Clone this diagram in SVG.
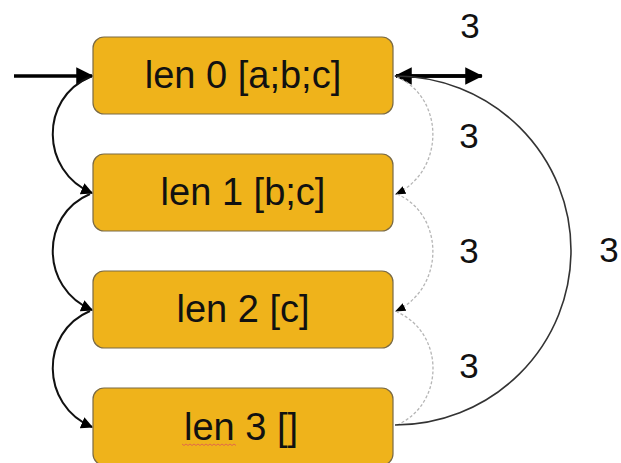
<svg xmlns="http://www.w3.org/2000/svg" width="621" height="463" viewBox="0 0 621 463">
<defs>
<style>
.box{fill:#EFB31B;stroke:#7a6a45;stroke-width:1.2}
.lbl{font-family:"Liberation Sans",Arial,sans-serif;font-size:38px;fill:#111;text-anchor:middle}
.num{font-family:"Liberation Sans",Arial,sans-serif;font-size:35px;fill:#111;text-anchor:middle}
.thick{fill:none;stroke:#000;stroke-width:3.5}
.arc{fill:none;stroke:#111;stroke-width:2}
.dash{fill:none;stroke:#b5b5b5;stroke-width:1.3;stroke-dasharray:3 2}
.big{fill:none;stroke:#333;stroke-width:1.6}
</style>
<marker id="ah" viewBox="0 0 10 10" refX="9" refY="5" markerWidth="5" markerHeight="5" orient="auto" markerUnits="strokeWidth">
<path d="M0,0 L10,5 L0,10 z" fill="#000"/>
</marker>
<marker id="ahs" viewBox="0 0 10 10" refX="9" refY="5" markerWidth="6" markerHeight="6" orient="auto" markerUnits="strokeWidth">
<path d="M0,0 L10,5 L0,10 z" fill="#000"/>
</marker>
<marker id="ahd" viewBox="0 0 10 10" refX="9" refY="5" markerWidth="8" markerHeight="8" orient="auto" markerUnits="strokeWidth">
<path d="M0,1 L10,5 L0,9 z" fill="#000"/>
</marker>
</defs>
<g id="connectors">
<path class="thick" d="M14,76 L92,76" marker-end="url(#ah)"/>
<path class="thick" d="M482,76 L396,76" marker-end="url(#ah)"/>
<path class="thick" d="M396,76 L481,76" marker-end="url(#ah)"/>
<path class="arc" d="M90,77 C40,98 40,171 92,193" marker-end="url(#ahs)"/>
<path class="arc" d="M90,194 C40,215 40,288 92,310" marker-end="url(#ahs)"/>
<path class="arc" d="M90,311 C40,332 40,405 92,427" marker-end="url(#ahs)"/>
<path class="dash" d="M397,77 C445,98 445,171 396,194" marker-end="url(#ahd)"/>
<path class="dash" d="M397,194 C445,215 445,288 396,311" marker-end="url(#ahd)"/>
<path class="dash" d="M397,425 C445,404 445,333 397,312"/>
<path class="big" d="M395,425 A176,174.5 0 0 0 395,76"/>
</g>
<g id="node0">
<rect class="box" x="93" y="37" width="300" height="77" rx="11"/>
<text class="lbl" x="243" y="88">len 0 [a;b;c]</text>
</g>
<g id="node1">
<rect class="box" x="93" y="154" width="300" height="77" rx="11"/>
<text class="lbl" x="243" y="205">len 1 [b;c]</text>
</g>
<g id="node2">
<rect class="box" x="93" y="271" width="300" height="77" rx="11"/>
<text class="lbl" x="243" y="322">len 2 [c]</text>
</g>
<g id="node3">
<rect class="box" x="93" y="388" width="300" height="77" rx="11"/>
<text class="lbl" x="241" y="440">len 3 []</text>
<path d="M182,444 l2,1.5 l2,-1.5 l2,1.5 l2,-1.5 l2,1.5 l2,-1.5 l2,1.5 l2,-1.5 l2,1.5 l2,-1.5 l2,1.5 l2,-1.5 l2,1.5 l2,-1.5 l2,1.5 l2,-1.5 l2,1.5 l2,-1.5 l2,1.5 l2,-1.5 l2,1.5 l2,-1.5 l2,1.5 l2,-1.5 l2,1.5 l2,-1.5 l2,1.5" fill="none" stroke="#e06050" stroke-width="0.9"/>
</g>
<g id="labels">
<text class="num" x="470" y="38">3</text>
<text class="num" x="469" y="148">3</text>
<text class="num" x="469" y="263">3</text>
<text class="num" x="469" y="378">3</text>
<text class="num" x="609" y="262">3</text>
</g>
</svg>
